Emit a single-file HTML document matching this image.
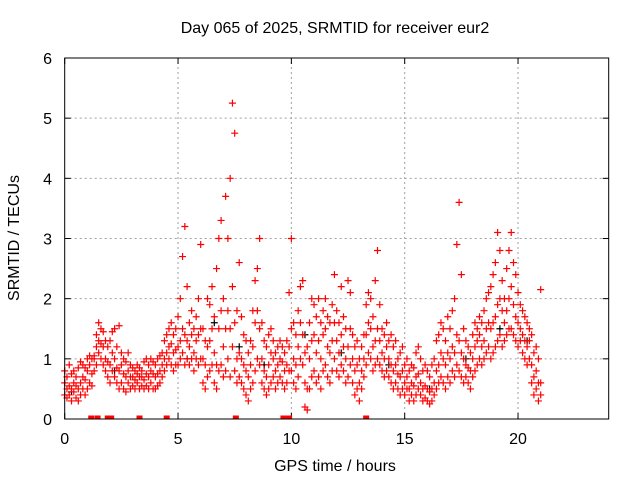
<!DOCTYPE html>
<html><head><meta charset="utf-8"><style>
html,body{margin:0;padding:0;background:#fff;}
svg{display:block;font-family:"Liberation Sans",sans-serif;}
</style></head><body>
<svg id="chart" width="640" height="480" viewBox="0 0 640 480">
<rect width="640" height="480" fill="#fff"/>
<text x="335" y="33" font-size="16" text-anchor="middle">Day 065 of 2025, SRMTID for receiver eur2</text>
<text x="335" y="471" font-size="16" text-anchor="middle">GPS time / hours</text>
<text transform="translate(19,238) rotate(-90)" font-size="16" text-anchor="middle">SRMTID / TECUs</text>
<g id="grid"></g>
<g id="ticks"></g>
<g id="marks"></g>
<rect x="64.7" y="58" width="544" height="361" fill="none" stroke="#000" stroke-width="1"/>
</svg>
<script>
const xTicks = [0,5,10,15,20];
const yTicks = [0,1,2,3,4,5,6];
const stepHours = 0.1;
const redVals = [
[.4,.6,.8],[.35,.5,.7],[.4,.55,.9],[.3,.5,.75],[.45,.6,.8],[.35,.55,.7],[.3,.5,.85],[.4,.6,.95],[.5,.7,.9],[.4,.65,.85],
[.5,.8,1.0],[.6,.9,1.05],[.55,.75,1.0],[.8,1.0,1.05],[.9,1.2,1.4],[1.1,1.3,1.6],[1.0,1.25,1.5],[.9,1.2,1.45],[.8,1.0,1.3],[.7,.95,1.2],
[.6,.9,1.3],[.8,1.1,1.45],[.7,1.0,1.5],[.6,.85,1.2],[.5,.8,1.55],[.6,.9,1.1],[.5,.75,1.0],[.45,.7,.95],[.6,.8,1.1],[.5,.7,.9],
[.55,.7,.85],[.5,.65,.8],[.6,.75,.9],[.5,.7,.85],[.55,.7,.8],[.5,.65,.95],[.55,.75,1.0],[.5,.7,.9],[.6,.8,1.0],[.5,.75,.95],
[.5,.7,.9],[.55,.75,1.0],[.6,.8,1.05],[.7,.9,1.1],[.8,1.0,1.3],[.9,1.1,1.4],[1.0,1.2,1.5],[.9,1.25,1.6],[.8,1.1,1.4],[.9,1.15,1.5],
[.9,1.2,1.7],[1.0,1.3,2.0],[1.1,1.5,2.7],[.9,1.4,3.2],[1.0,1.3,2.2],[.9,1.2,1.6],[1.0,1.4,1.8],[.8,1.1,1.5],[1.0,1.3,1.7],[.9,1.4,2.0],
[1.0,1.5,2.9],[.6,1.0,1.5],[.5,.9,1.3],[.7,1.2,2.0],[.8,1.3,1.9],[.9,1.5,2.2],[.6,1.1,1.7],[.5,.9,2.5],[.8,1.5,3.0],[.9,1.8,3.3],
[.7,1.2,2.0],[.8,1.5,3.7],[1.0,1.8,3.0],[.7,1.5,4.0],[1.2,2.2,5.25],[.8,1.6,4.75],[.6,1.0,1.8],[.7,1.1,2.6],[.6,1.0,1.7],[.5,.9,1.4],
[.4,.8,1.3],[.3,.7,1.1],[.5,.9,1.3],[.6,1.2,1.8],[.8,1.6,2.3],[1.0,1.8,2.5],[.9,1.5,3.0],[.6,1.0,1.6],[.5,.8,1.3],[.4,.7,1.2],
[.5,.9,1.4],[.6,1.1,1.5],[.7,1.0,1.3],[.5,.8,1.1],[.6,.9,1.2],[.7,1.0,1.3],[.6,.95,1.2],[.5,.8,1.1],[.6,.9,1.3],[.8,1.2,2.1],
[.8,1.5,3.0],[.6,1.0,1.6],[.5,.9,1.4],[.7,1.2,1.8],[1.0,1.6,2.2],[.9,1.4,2.3],[.2,.6,1.1],[.15,.5,1.2],[.5,1.0,1.6],[.7,1.3,2.0],
[.8,1.4,1.9],[.6,1.1,1.7],[.7,1.3,2.0],[.5,1.0,1.6],[.8,1.4,1.8],[.9,1.5,2.0],[.7,1.2,1.7],[.6,1.1,1.6],[.8,1.3,1.9],[1.0,1.6,2.4],
[.8,1.3,1.8],[.7,1.1,1.6],[.9,1.4,2.2],[.8,1.2,1.7],[.6,1.0,1.5],[.7,1.2,2.3],[.9,1.5,2.1],[.6,1.0,1.4],[.4,.8,1.2],[.5,.9,1.3],
[.3,.6,1.0],[.5,.8,1.2],[.7,1.0,1.4],[.9,1.4,1.9],[1.1,1.6,2.1],[1.0,1.5,2.0],[.8,1.2,1.7],[.9,1.3,2.3],[1.0,1.5,2.8],[.9,1.3,1.9],
[.8,1.1,1.5],[.7,1.0,1.4],[.8,1.2,1.6],[.7,1.0,1.3],[.6,.9,1.4],[.5,.8,1.2],[.6,.9,1.3],[.5,.75,1.0],[.4,.7,1.1],[.5,.8,1.2],
[.4,.6,.9],[.5,.7,1.0],[.3,.5,.8],[.4,.6,.9],[.3,.55,.85],[.4,.7,1.1],[.5,.75,1.2],[.4,.6,1.0],[.3,.5,.8],[.35,.55,.9],
[.3,.5,.8],[.25,.45,.7],[.3,.5,.9],[.4,.6,1.0],[.5,.8,1.3],[.6,.9,1.4],[.7,1.1,1.6],[.6,1.0,1.5],[.5,.9,1.3],[.7,1.1,1.7],
[.6,1.0,1.5],[.8,1.2,1.8],[.7,1.1,2.0],[.9,1.4,2.9],[.8,1.3,3.6],[.7,1.1,2.4],[.6,1.0,1.5],[.7,.9,1.3],[.6,.85,1.2],[.5,.8,1.1],
[.7,1.0,1.4],[.8,1.2,1.6],[.9,1.3,1.5],[1.0,1.4,1.7],[.9,1.2,1.6],[1.0,1.3,1.8],[1.1,1.5,2.0],[1.2,1.6,2.1],[1.0,1.5,2.2],[1.1,1.6,2.4],
[1.2,1.7,2.6],[1.3,1.9,3.1],[1.4,2.0,2.8],[1.2,1.8,2.3],[1.3,1.6,2.0],[1.4,1.8,2.5],[1.5,2.0,2.8],[1.5,2.2,3.1],[1.4,1.9,2.6],[1.3,1.7,2.4],
[1.2,1.6,2.1],[1.3,1.5,1.9],[1.1,1.4,1.8],[1.0,1.3,1.7],[.9,1.2,1.6],[1.0,1.3,1.5],[.6,.9,1.4],[.4,.7,1.1],[.5,.8,1.2],[.3,.6,1.0],
[.4,.6,2.15]
];
const zeroHours = [1.17,1.45,1.9,2.05,3.3,4.5,7.55,9.65,9.9,13.3];
const blackHours = [0.3,2.2,5.4,6.6,7.7,8.8,10.6,12.2,14.3,16.1,17.7,19.2,20.4];
const blackVals = [0.45,0.8,1.0,1.6,1.2,0.9,1.4,1.1,0.9,0.5,1.0,1.5,1.3];

const NS = 'http://www.w3.org/2000/svg';
const X0 = 64.7, X1 = 608.7, Y0 = 419, Y1 = 58;
const xs = h => X0 + (h / 24) * (X1 - X0);
const ys = v => Y0 - (v / 6) * (Y0 - Y1);
function mk(tag, attrs, parent) {
  const el = document.createElementNS(NS, tag);
  for (const k in attrs) el.setAttribute(k, attrs[k]);
  parent.appendChild(el);
  return el;
}
const grid = document.getElementById('grid');
const ticks = document.getElementById('ticks');
const marks = document.getElementById('marks');
xTicks.forEach(t => {
  const x = xs(t);
  if (t > 0) {
    const g = mk('line', {x1:x, y1:Y0, x2:x, y2:Y1, stroke:'#a0a0a0', 'stroke-dasharray':'2,3'}, grid);
    
    
  }
  mk('line', {x1:x, y1:Y0, x2:x, y2:Y0-6, stroke:'#000'}, ticks);
  mk('line', {x1:x, y1:Y1, x2:x, y2:Y1+6, stroke:'#000'}, ticks);
  const tx = mk('text', {x:x, y:444, 'font-size':16, 'text-anchor':'middle'}, ticks);
  tx.textContent = t;
  
  
});
yTicks.forEach(t => {
  const y = ys(t);
  if (t > 0 && t < 6) {
    const g = mk('line', {x1:X0, y1:y, x2:X1, y2:y, stroke:'#a0a0a0', 'stroke-dasharray':'2,3'}, grid);
    
    
  }
  mk('line', {x1:X0, y1:y, x2:X0+6, y2:y, stroke:'#000'}, ticks);
  mk('line', {x1:X1, y1:y, x2:X1-6, y2:y, stroke:'#000'}, ticks);
  const tx = mk('text', {x:52, y:y+6, 'font-size':16, 'text-anchor':'end'}, ticks);
  tx.textContent = t;
  
  
});
function plus(h, v, color) {
  const x = xs(h), y = ys(v);
  const p = mk('path', {d:`M${x-3.5},${y}H${x+3.5}M${x},${y-3.5}V${y+3.5}`, stroke:color, 'stroke-width':1.2, fill:'none'}, marks);
  return p;
}
blackHours.forEach((h, i) => {
  const p = plus(h, blackVals[i], '#000');
  
  
});
redVals.forEach((arr, i) => {
  arr.forEach(v => {
    const p = plus(i * stepHours, v, '#ff0000');
    
    
  });
});
zeroHours.forEach(h => {
  const r = mk('rect', {x:xs(h)-3, y:Y0-3.5, width:6, height:4, fill:'#ff0000'}, marks);
  
  
});
</script>
</body></html>
